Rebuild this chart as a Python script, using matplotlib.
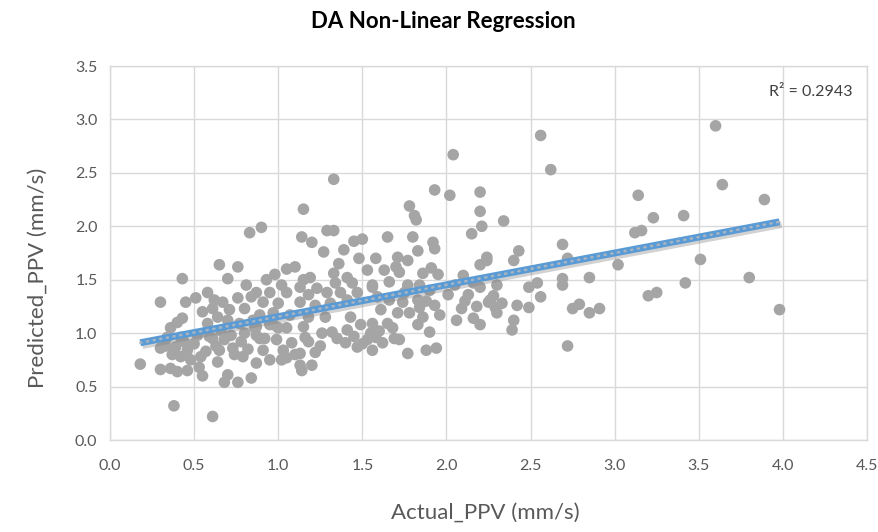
import numpy as np
import matplotlib
matplotlib.use("Agg")
import matplotlib.pyplot as plt
import matplotlib.patheffects as pe

plt.rcParams['font.family'] = ['Lato', 'DejaVu Sans']

title = "DA Non-Linear Regression"
x_label = "Actual_PPV (mm/s)"
y_label = "Predicted_PPV (mm/s)"
r2_text = "R² = 0.2943"
x_ticks = [0.0, 0.5, 1.0, 1.5, 2.0, 2.5, 3.0, 3.5, 4.0, 4.5]
y_ticks = [0.0, 0.5, 1.0, 1.5, 2.0, 2.5, 3.0, 3.5]

actual_ppv = [
    0.18, 0.30, 0.38, 0.61, 0.43, 0.83, 0.90, 0.65, 0.76, 0.70, 0.81, 0.93,
    0.45, 0.51, 0.58, 0.62, 0.67, 0.76, 0.84, 0.55, 0.61, 0.71, 0.80, 0.43,
    0.40, 0.36, 0.58, 0.64, 0.70, 0.77, 0.85, 0.34, 0.42, 0.52, 0.61, 0.68,
    0.80, 0.87, 0.30, 0.39, 0.46, 0.65, 0.73, 0.42, 0.54, 0.64, 0.79, 0.87,
    0.30, 0.36, 0.40, 0.46, 0.55, 0.70, 0.68, 0.76, 0.84,
    1.27, 1.10, 1.02, 1.15, 1.19, 1.33, 1.34, 1.41, 1.44, 1.53, 0.87, 0.95,
    1.05, 1.13, 1.29, 1.37, 1.47, 1.56, 0.91, 1.00, 1.13, 1.22, 1.31, 1.41,
    0.89, 0.97, 1.07, 1.18, 1.28, 1.43, 0.87, 0.97, 1.05, 1.15, 1.26, 1.32,
    1.41, 1.49, 1.55, 0.89, 0.99, 1.08, 1.18, 1.40, 1.47, 1.53, 0.91, 1.03,
    1.13, 1.22, 1.56, 0.95, 1.05, 1.13, 1.20, 1.14,
    1.33, 1.15, 1.14, 1.20, 1.29, 1.33, 1.39, 1.45, 1.50, 1.65, 1.78, 1.81,
    1.82, 1.80, 1.93, 2.02, 1.92, 1.93, 1.83, 1.71, 2.20, 2.20, 2.21, 2.15,
    2.24,
    1.77, 1.91, 1.86, 1.63, 1.72, 1.56, 1.66, 1.77, 1.84, 1.90, 1.59, 1.66,
    1.74, 1.83, 1.93, 1.61, 1.71, 1.78, 1.86, 1.56, 1.65, 1.83, 1.90, 1.58,
    1.69, 1.62, 1.77, 1.88, 1.94, 2.24, 2.20, 2.10, 2.16, 2.01, 2.13, 2.09,
    2.25, 2.06, 2.16, 2.20, 2.30, 2.29, 2.30,
    2.04, 2.62, 2.34, 2.43, 2.40, 2.20, 2.49, 2.54, 2.56, 2.33, 2.42, 2.49,
    2.40, 2.39, 1.72, 1.84,
    2.69, 2.72, 2.26, 2.69, 2.69, 2.85, 2.75, 2.79, 2.85, 2.91, 2.72, 3.02,
    2.56, 3.60, 3.64, 3.14, 3.23, 3.41, 3.12, 3.16, 3.51, 3.42, 3.20, 3.25,
    3.89, 3.80, 3.98,
    0.33, 0.37, 0.44, 0.48, 0.50, 0.53, 0.57, 0.59, 0.63, 0.66, 0.72, 0.74,
    0.78, 0.82, 0.86, 0.92, 0.95, 1.00, 1.02, 1.10, 1.16, 1.25, 1.35, 1.45,
    1.50, 1.60, 1.68,
    0.98, 1.05, 1.18, 1.23, 1.36, 1.48, 1.58, 1.70, 1.75, 1.88, 1.95, 1.96,
    2.05, 2.11, 2.18, 2.28,
]
predicted_ppv = [
    0.71, 1.29, 0.32, 0.22, 1.51, 1.94, 1.99, 1.64, 1.62, 1.51, 1.45, 1.50,
    1.29, 1.33, 1.38, 1.31, 1.29, 1.33, 1.34, 1.20, 1.23, 1.22, 1.23, 1.14,
    1.10, 1.05, 1.09, 1.15, 1.12, 1.09, 1.12, 0.96, 0.96, 0.98, 0.95, 0.94,
    1.00, 0.98, 0.86, 0.87, 0.84, 0.84, 0.86, 0.78, 0.78, 0.73, 0.78, 0.72,
    0.66, 0.67, 0.64, 0.65, 0.60, 0.61, 0.54, 0.54, 0.58,
    1.76, 1.62, 1.45, 1.50, 1.52, 1.56, 1.47, 1.52, 1.47, 1.59, 1.38, 1.38,
    1.38, 1.43, 1.38, 1.38, 1.38, 1.43, 1.29, 1.28, 1.29, 1.26, 1.28, 1.31,
    1.17, 1.19, 1.17, 1.15, 1.15, 1.15, 1.06, 1.08, 1.05, 1.06, 1.00, 1.01,
    1.03, 1.08, 1.00, 0.95, 0.94, 0.91, 0.92, 0.91, 0.87, 0.94, 0.84, 0.84,
    0.81, 0.82, 0.84, 0.75, 0.77, 0.70, 0.70, 0.65,
    2.44, 2.16, 1.90, 1.85, 1.96, 1.96, 1.78, 1.86, 1.88, 1.90, 2.19, 2.10,
    2.06, 1.90, 2.34, 2.29, 1.85, 1.79, 1.77, 1.71, 2.32, 2.14, 2.00, 1.93,
    1.71,
    1.68, 1.61, 1.56, 1.59, 1.57, 1.45, 1.48, 1.45, 1.45, 1.40, 1.34, 1.31,
    1.29, 1.31, 1.26, 1.22, 1.19, 1.19, 1.15, 1.09, 1.09, 1.08, 1.01, 0.96,
    0.95, 0.91, 0.81, 0.84, 0.86, 1.68, 1.64, 1.54, 1.47, 1.36, 1.36, 1.23,
    1.29, 1.12, 1.14, 1.08, 1.45, 1.24, 1.19,
    2.67, 2.53, 2.05, 1.77, 1.68, 1.43, 1.43, 1.47, 1.34, 1.28, 1.26, 1.24,
    1.12, 1.03, 0.94, 1.24,
    1.83, 1.70, 1.31, 1.51, 1.45, 1.52, 1.23, 1.27, 1.19, 1.23, 0.88, 1.64,
    2.85, 2.94, 2.39, 2.29, 2.08, 2.10, 1.94, 1.96, 1.69, 1.47, 1.35, 1.38,
    2.25, 1.52, 1.22,
    0.88, 0.80, 0.92, 0.75, 0.90, 0.68, 0.83, 0.97, 0.88, 1.02, 0.98, 0.80,
    0.92, 0.85, 1.05, 0.95, 1.08, 1.05, 0.75, 0.80, 0.96, 0.88, 0.95, 0.97,
    0.90, 1.02, 1.05,
    1.55, 1.60, 1.36, 1.42, 1.65, 1.70, 1.70, 1.62, 1.38, 1.30, 1.55, 1.17,
    1.45, 1.30, 1.25, 1.35,
]

x = np.array(actual_ppv)
y = np.array(predicted_ppv)

W, H = 879, 532
fig = plt.figure(figsize=(W / 100, H / 100), dpi=100)
ax = fig.add_axes([110 / W, 1 - 440 / H, (867 - 110) / W, (440 - 66) / H])

grid_c = "#D9D9D9"
ax.set_xlim(0, 4.5)
ax.set_ylim(0, 3.5)
ax.set_xticks(x_ticks)
ax.set_yticks(y_ticks)
ax.set_xticklabels([f"{v:.1f}" for v in x_ticks])
ax.set_yticklabels([f"{v:.1f}" for v in y_ticks])
ax.grid(True, color=grid_c, linewidth=1.0)
ax.set_axisbelow(True)
for s in ax.spines.values():
    s.set_color(grid_c)
    s.set_linewidth(1.0)
ax.tick_params(length=0, colors="#595959", labelsize=11.5)
ax.tick_params(axis="x", pad=14)
ax.tick_params(axis="y", pad=9)

ax.scatter(x, y, s=70, color="#A5A5A5", edgecolors="none", zorder=3)

# linear trendline
coef = np.polyfit(x, y, 1)
xs = np.array([x.min(), x.max()])
ys = np.polyval(coef, xs)
ax.plot(xs, ys, color="#5B9BD5", linewidth=5, solid_capstyle="butt", zorder=4,
        path_effects=[pe.SimpleLineShadow(offset=(1.5, -2), shadow_color="#808080", alpha=0.35),
                      pe.Normal()])
ax.plot(xs, ys, color="#A8B4C0", linewidth=1.8, linestyle=(0, (0.5, 2.2)),
        dash_capstyle="round", zorder=5)

ax.text(0.981, 0.930, r2_text, transform=ax.transAxes, ha="right", va="center",
        fontsize=11.5, color="#404040")

fig.text(443 / W, 1 - 22 / H, title, ha="center", va="center", fontsize=16,
         fontweight="bold", color="#000000")
fig.text(485 / W, 1 - 513 / H, x_label, ha="center", va="center", fontsize=16,
         color="#595959")
fig.text(38 / W, 1 - 278 / H, y_label, ha="center", va="center", fontsize=16,
         color="#595959", rotation=90)

fig.savefig("out.png", dpi=100)
